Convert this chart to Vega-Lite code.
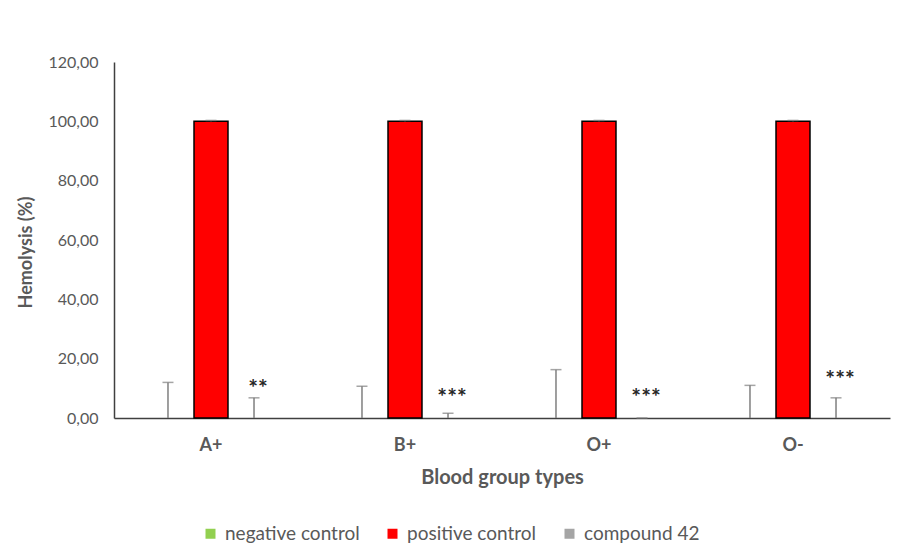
{
  "$schema": "https://vega.github.io/schema/vega-lite/v6.json",
  "autosize": {"type": "none"},
  "width": 776,
  "height": 356,
  "padding": {"left": 114, "top": 62, "right": 25, "bottom": 140},
  "background": "white",
  "data": {
    "values": [
      {"group": "A+", "type": "negative control", "value": 0, "upper": 12.0, "star": null, "star_y": null},
      {"group": "A+", "type": "positive control", "value": 100, "upper": 100.3, "star": null, "star_y": null},
      {"group": "A+", "type": "compound 42", "value": 0, "upper": 6.8, "star": "**", "star_y": 11.9},
      {"group": "B+", "type": "negative control", "value": 0, "upper": 10.7, "star": null, "star_y": null},
      {"group": "B+", "type": "positive control", "value": 100, "upper": 100.3, "star": null, "star_y": null},
      {"group": "B+", "type": "compound 42", "value": 0, "upper": 1.6, "star": "***", "star_y": 8.8},
      {"group": "O+", "type": "negative control", "value": 0, "upper": 16.3, "star": null, "star_y": null},
      {"group": "O+", "type": "positive control", "value": 100, "upper": 100.3, "star": null, "star_y": null},
      {"group": "O+", "type": "compound 42", "value": 0, "upper": 0, "star": "***", "star_y": 8.8},
      {"group": "O-", "type": "negative control", "value": 0, "upper": 11.0, "star": null, "star_y": null},
      {"group": "O-", "type": "positive control", "value": 100, "upper": 100.3, "star": null, "star_y": null},
      {"group": "O-", "type": "compound 42", "value": 0, "upper": 6.8, "star": "***", "star_y": 15.0}
    ]
  },
  "encoding": {
    "x": {
      "field": "group",
      "type": "nominal",
      "sort": ["A+", "B+", "O+", "O-"],
      "scale": {"paddingInner": 0, "paddingOuter": 0},
      "title": "Blood group types",
      "axis": {
        "labelAngle": 0,
        "ticks": false,
        "labelPadding": 18,
        "labelFontSize": 18,
        "labelFontWeight": "bold",
        "titleFontSize": 20,
        "titlePadding": 13
      }
    },
    "xOffset": {
      "field": "type",
      "type": "nominal",
      "sort": ["negative control", "positive control", "compound 42"],
      "scale": {"paddingInner": 0.21, "paddingOuter": 0.86}
    }
  },
  "layer": [
    {
      "mark": {"type": "bar", "strokeWidth": 1.5},
      "encoding": {
        "y": {
          "field": "value",
          "type": "quantitative",
          "scale": {"domain": [0, 120], "nice": false},
          "title": "Hemolysis (%)",
          "axis": {
            "values": [0, 20, 40, 60, 80, 100, 120],
            "labelExpr": "replace(format(datum.value, '.2f'), '.', ',')",
            "ticks": false,
            "grid": false,
            "labelPadding": 16,
            "labelFontSize": 16,
            "titleFontSize": 18,
            "titlePadding": 12,
            "titleY": 190
          }
        },
        "color": {
          "field": "type",
          "type": "nominal",
          "sort": ["negative control", "positive control", "compound 42"],
          "scale": {"range": ["#92D050", "#FF0000", "#A5A5A5"]},
          "legend": {
            "title": null,
            "orient": "none",
            "direction": "horizontal",
            "legendX": 87,
            "legendY": 462,
            "symbolType": "square",
            "symbolSize": 100,
            "symbolStrokeWidth": 2,
            "labelFontSize": 19,
            "labelColor": "#595959",
            "labelOffset": 5,
            "columnPadding": 23,
            "encode": {
              "symbols": {
                "enter": {
                  "stroke": {"signal": "datum.value === 'positive control' ? '#000000' : 'transparent'"},
                  "strokeWidth": {"value": 2}
                },
                "update": {
                  "stroke": {"signal": "datum.value === 'positive control' ? '#000000' : 'transparent'"},
                  "strokeWidth": {"value": 2}
                }
              }
            }
          }
        },
        "stroke": {
          "condition": {"test": "datum.type === 'positive control'", "value": "#000000"},
          "value": null
        }
      }
    },
    {
      "mark": {"type": "rule", "color": "#7F7F7F", "strokeWidth": 1.5},
      "encoding": {
        "y": {"field": "value", "type": "quantitative"},
        "y2": {"field": "upper"}
      }
    },
    {
      "mark": {"type": "tick", "color": "#7F7F7F", "size": 11, "thickness": 1.5},
      "encoding": {
        "y": {"field": "upper", "type": "quantitative"}
      }
    },
    {
      "transform": [{"filter": "datum.star != null"}],
      "mark": {"type": "text", "fontSize": 23, "fontWeight": "bold", "color": "#262626", "dx": 4, "dy": 6, "baseline": "middle"},
      "encoding": {
        "y": {"field": "star_y", "type": "quantitative"},
        "text": {"field": "star"}
      }
    }
  ],
  "config": {
    "font": "Lato",
    "view": {"stroke": null},
    "axis": {
      "domainColor": "#404040",
      "domainWidth": 1.5,
      "labelColor": "#595959",
      "titleColor": "#595959",
      "titleFontWeight": "bold",
      "labelFont": "Lato",
      "titleFont": "Lato"
    },
    "legend": {"labelFont": "Lato"}
  }
}
